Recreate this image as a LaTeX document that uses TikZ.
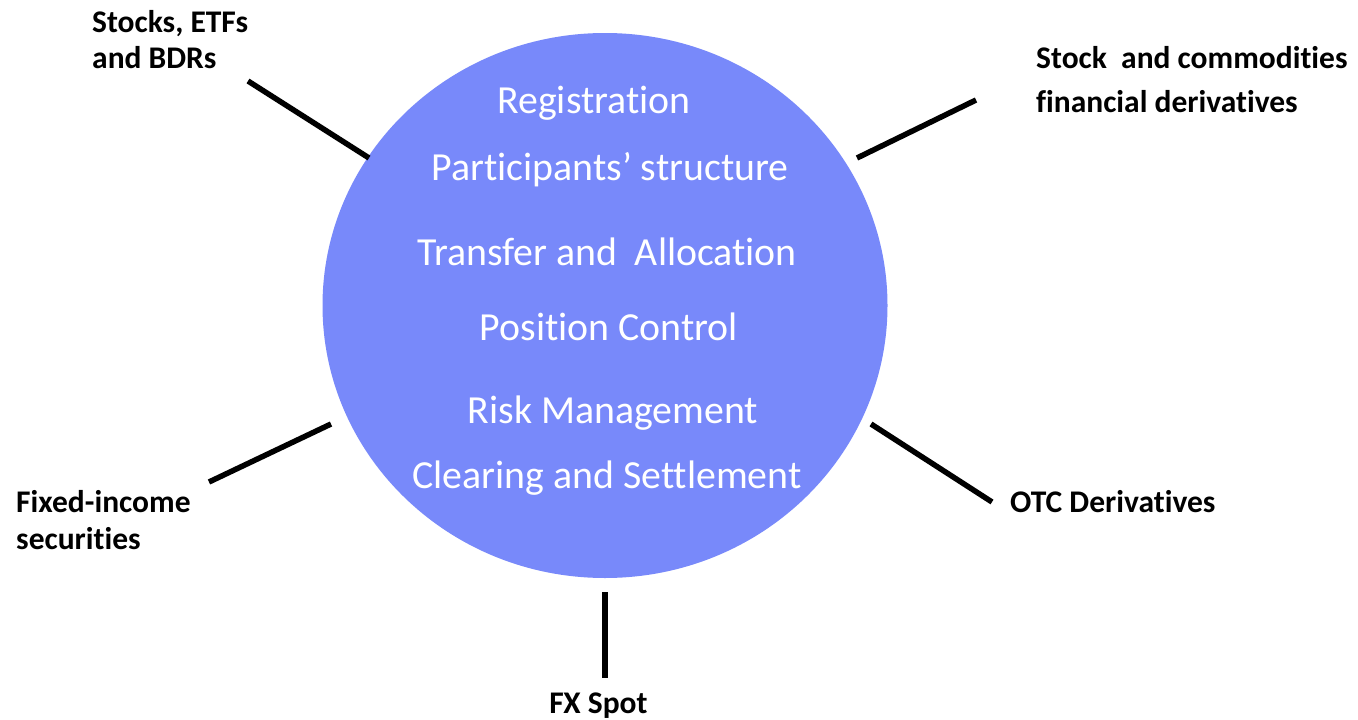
\documentclass[tikz,border=0pt]{standalone}
\usepackage{fontspec}
\setmainfont{Carlito}[Ligatures=NoCommon]
\usetikzlibrary{shapes.geometric}
\definecolor{hubblue}{RGB}{120,137,250}
\begin{document}
\begin{tikzpicture}[x=1pt,y=-1pt,
  hub/.style={ellipse,fill=hubblue,draw=none,inner sep=0pt,
    minimum width=565pt,minimum height=545pt},
  service/.style={anchor=base,text=white,inner sep=0pt,
    font=\fontsize{39.8}{47}\selectfont},
  market/.style={anchor=base west,align=left,inner sep=0pt},
  spoke/.style={line width=5.5pt}]
\useasboundingbox (0,0) rectangle (1358,720);
\fill[white] (0,0) rectangle (1358,720);

% central hub
\node[hub] (hub) at (605,305.5) {};

% services offered by the hub
\node[service] (reg)  at (594,113) {Registration};
\node[service] (part) at (610,180) {Participants’ structure};
\node[service] (tra)  at (607,265) {Transfer and\ \ Allocation};
\node[service] (pos)  at (609,340) {Position Control};
\node[service] (risk) at (613,423) {Risk Management};
\node[service] (clr)  at (607,488) {Clearing and Settlement};

% markets around the hub (anchored at the baseline of the last line)
\node[market,font=\fontsize{31.5}{36}\selectfont\bfseries] (stocks) at (92,68) {Stocks, ETFs\\and BDRs};
\node[market,font=\fontsize{31.5}{44}\selectfont\bfseries] (deriv) at (1036,112) {Stock\ \ and commodities\\financial derivatives};
\node[market,font=\fontsize{31.5}{37}\selectfont\bfseries] (fixed) at (16,549) {Fixed-income\\securities};
\node[market,font=\fontsize{31.5}{36}\selectfont\bfseries] (otc) at (1010,512) {OTC Derivatives};
\node[market,anchor=base,font=\fontsize{31.5}{36}\selectfont\bfseries] (fx) at (598.5,713) {FX Spot};

% spoke end points
\coordinate (s1a) at (248,81);  \coordinate (s1b) at (369,158);
\coordinate (s2a) at (857,158); \coordinate (s2b) at (976,100);
\coordinate (s3a) at (209,482); \coordinate (s3b) at (331,424);
\coordinate (s4a) at (871,424); \coordinate (s4b) at (992,502);
\coordinate (s5a) at (605,592); \coordinate (s5b) at (605,678);

% spokes
\draw[spoke] (s1a) -- (s1b);
\draw[spoke] (s2a) -- (s2b);
\draw[spoke] (s3a) -- (s3b);
\draw[spoke] (s4a) -- (s4b);
\draw[spoke] (s5a) -- (s5b);
\end{tikzpicture}
\end{document}
